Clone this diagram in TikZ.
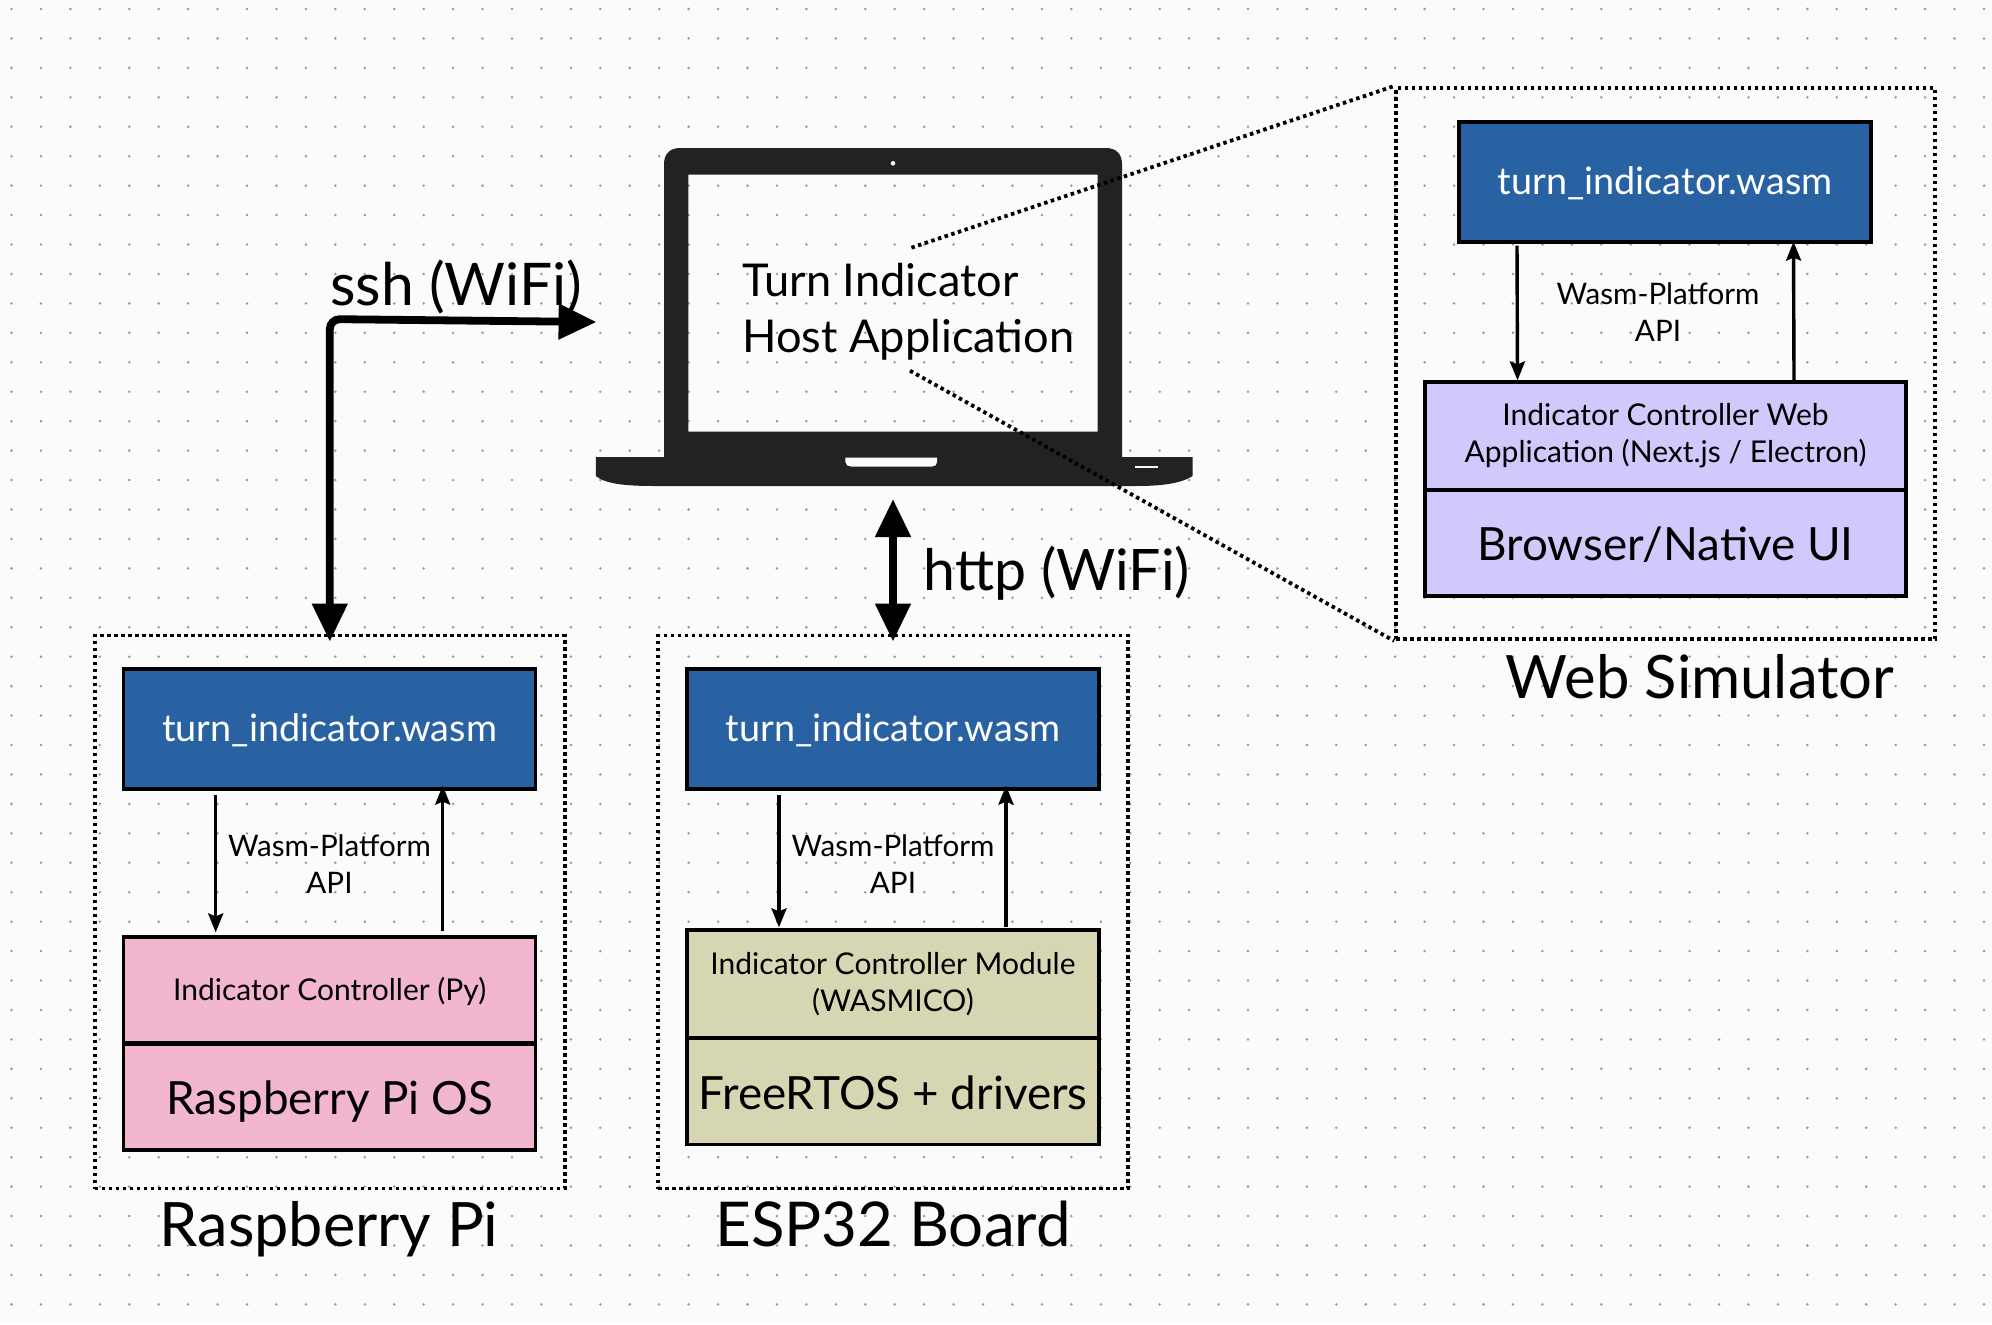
\documentclass[tikz,border=0pt]{standalone}
\usepackage{fontspec}
\setmainfont{Lato}
\usetikzlibrary{arrows.meta,calc}
\definecolor{bgc}{HTML}{FBFBFB}
\definecolor{dotc}{HTML}{9A9A9A}
\definecolor{wasmblue}{HTML}{2962A3}
\definecolor{pinkc}{HTML}{F2B6D0}
\definecolor{olivec}{HTML}{D6D7B2}
\definecolor{purplec}{HTML}{D2C8FB}
\definecolor{laptopc}{HTML}{222222}
\newcommand{\lowered}[2]{\raisebox{-#1pt}[0pt][0pt]{#2}}
\tikzset{
  x=0.5pt,y=-0.5pt,
  box/.style={draw=black,line width=1.6pt,inner sep=0pt,align=center,font=\fontsize{15}{18.4}\selectfont},
  wasmbox/.style={box,fill=wasmblue,text=white,minimum width=206pt,minimum height=60pt,font=\fontsize{18.9}{22}\selectfont},
  osfont/.style={font=\fontsize{22.9}{26}\selectfont},
  frame/.style={draw=black,line width=1.9pt,dash pattern=on 1.75pt off 1.75pt},
  leader/.style={draw=black,line width=1.9pt,dash pattern=on 1.75pt off 1.75pt},
  title/.style={inner sep=0pt,anchor=base},
  apilabel/.style={font=\fontsize{14.8}{18.6}\selectfont,align=center,inner sep=0pt},
  thin arrow/.style={draw=black,line width=1.7pt,-{Stealth[length=9.5pt,width=7.5pt,inset=1.5pt]}},
  thick arrow/.style={draw=black,line width=3.9pt,rounded corners=5pt,{Triangle[length=19pt,width=17pt]}-{Triangle[length=19pt,width=17pt]}},
}
\begin{document}
\begin{tikzpicture}
\useasboundingbox (0,0) rectangle (1992,1324);
\fill[bgc] (0,0) rectangle (1992,1324);
\foreach \i in {0,...,67}{\foreach \j in {0,...,44}{
  \fill[dotc] ({11.5+29.44*\i},{9+29.44*\j}) circle (1.4);
}}
% laptop
\fill[laptopc,even odd rule]
  (664,457) -- (664,164) .. controls (664,154) and (670,148) .. (680,148) -- (1106,148) .. controls (1116,148) and (1122,154) .. (1122,164) -- (1122,457)
  -- (1192.6,457) -- (1192.6,476) .. controls (1180,484) and (1160,486) .. (1135,486)
  -- (655,486) .. controls (625,486) and (606,484) .. (595.8,476) -- (595.8,457) -- cycle
  (688.4,174.5) rectangle (1097.5,431.5);
\fill[bgc] (845.4,457.5) -- (937,457.5) -- (937,462) .. controls (937,465) and (935,466.5) .. (932,466.5) -- (851,466.5) .. controls (848,466.5) and (845.4,465) .. (845.4,462) -- cycle;
\fill[bgc] (1135.3,466) rectangle (1157.6,467.5);
\fill[bgc] (893,163.3) circle (2.3);
\node[font=\fontsize{22.6}{28}\selectfont,inner sep=0pt,anchor=base west] (hosta) at (742,296) {Turn Indicator};
\node[font=\fontsize{22.6}{28}\selectfont,inner sep=0pt,anchor=base west] (hostb) at (742,352) {Host Application};
\coordinate (leadtop) at (911.4,247.7);
\coordinate (leadbot) at (910,370.7);
\coordinate (sshend) at (596.6,322);
\coordinate (httpend) at (893,499);
% Raspberry Pi
\node[frame,minimum width=235pt,minimum height=276.5pt,inner sep=0pt] (piframe) at (329.8,912) {};
\node[wasmbox] (piwasm) at (329.7,729) {\lowered{6.35}{turn\_indicator.wasm}};
\node[box,fill=pinkc,minimum width=206pt,minimum height=53pt] (pictl) at (329.7,990) {\lowered{5.0}{Indicator Controller (Py)}};
\node[box,fill=pinkc,minimum width=206pt,minimum height=53pt,osfont] (pios) at (329.7,1097) {\lowered{8.5}{Raspberry Pi OS}};
\node[apilabel] (piapi) at (329.5,864) {Wasm-Platform\\API};
\draw[thin arrow] ($(piwasm.south)+(-114,4)$) -- ($(pictl.north)+(-114,-3)$);
\draw[thin arrow] ($(pictl.north)+(113,-4)$) -- ($(piwasm.south)+(113,-5)$);
\node[title,font=\fontsize{30.6}{34}\selectfont] (pititle) at (329,1246) {Raspberry Pi};
% ESP32
\node[frame,minimum width=235pt,minimum height=276.5pt,inner sep=0pt] (espframe) at (893,912) {};
\node[wasmbox] (espwasm) at (893,729) {\lowered{6.35}{turn\_indicator.wasm}};
\node[box,fill=olivec,minimum width=206pt,minimum height=54pt] (espctl) at (893,984) {Indicator Controller Module\\(WASMICO)};
\node[box,fill=olivec,minimum width=206pt,minimum height=53pt,osfont] (espos) at (893,1091.5) {\lowered{8.75}{FreeRTOS + drivers}};
\node[apilabel] (espapi) at (893,864) {Wasm-Platform\\API};
\draw[thin arrow] ($(espwasm.south)+(-114,4)$) -- ($(espctl.north)+(-114,-1)$);
\draw[thin arrow] ($(espctl.north)+(113,-1)$) -- ($(espwasm.south)+(113,-5)$);
\node[title,font=\fontsize{30.9}{34}\selectfont] (esptitle) at (893,1246) {ESP32 Board};
% Web simulator
\node[frame,minimum width=269.5pt,minimum height=275.5pt,inner sep=0pt] (webframe) at (1665.5,363.5) {};
\node[wasmbox] (webwasm) at (1665,182) {\lowered{6.35}{turn\_indicator.wasm}};
\node[box,fill=purplec,minimum width=240.5pt,minimum height=54pt] (webctl) at (1665.5,436) {Indicator Controller Web\\Application (Next.js / Electron)};
\node[box,fill=purplec,minimum width=240.5pt,minimum height=53pt,osfont] (webos) at (1665.5,543) {\lowered{8.5}{Browser/Native UI}};
\node[apilabel] (webapi) at (1658,312) {Wasm-Platform\\API};
\draw[thin arrow] ($(webwasm.south)+(-148,2)$) -- ($(webctl.north)+(-148,0)$);
\draw[thin arrow] ($(webctl.north)+(128.5,0)$) -- ($(webwasm.south)+(128.5,-2)$);
\node[title,font=\fontsize{29.9}{34}\selectfont] (webtitle) at (1700,698) {Web Simulator};
% leaders
\draw[leader] (leadtop) -- (webframe.north west);
\draw[leader] (leadbot) -- (webframe.south west);
% thick connectors
\draw[thick arrow] ($(piframe.north)+(0,8)$) -- ++(0,-322.5) -- (sshend);
\draw[thick arrow] ($(espframe.north)+(0,8)$) -- (httpend);
\node[title,anchor=base west,font=\fontsize{29.4}{34}\selectfont] (sshlab) at (330,305) {ssh (WiFi)};
\node[title,anchor=base west,font=\fontsize{28.6}{34}\selectfont] (httplab) at (923.5,590) {http (WiFi)};
\end{tikzpicture}
\end{document}
